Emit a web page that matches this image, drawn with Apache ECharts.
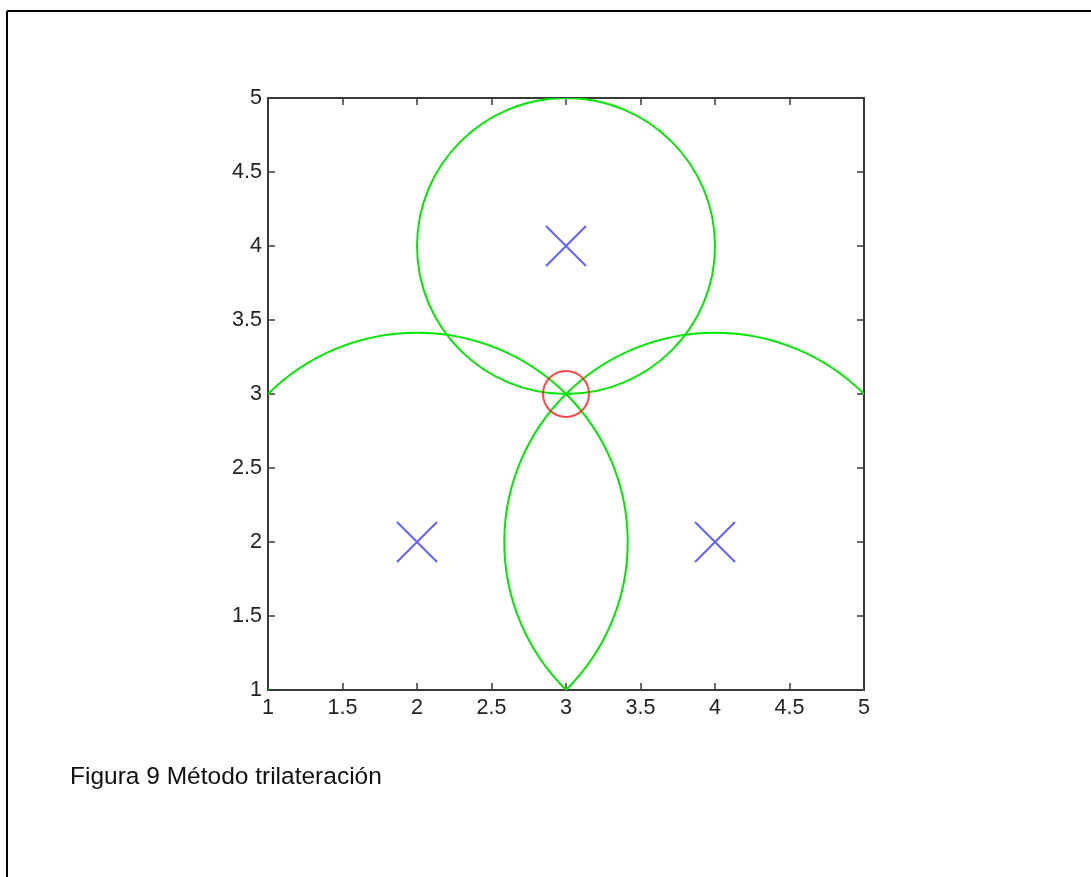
<!DOCTYPE html>
<html>
<head>
<meta charset="utf-8">
<style>
html,body{margin:0;padding:0;background:#fff;}
#chart{width:1091px;height:877px;}
</style>
<script src="https://cdn.jsdelivr.net/npm/echarts@6/dist/echarts.min.js"></script>
</head>
<body>
<div id="chart"></div>
<script>
// Data
var xTicks = [1, 1.5, 2, 2.5, 3, 3.5, 4, 4.5, 5];
var yTicks = [1, 1.5, 2, 2.5, 3, 3.5, 4, 4.5, 5];
// circles (anchors): centers and radii
var circleX = [3, 2, 4];
var circleY = [4, 2, 2];
var circleR = [1, 1.4142, 1.4142];
// anchor markers (blue x)
var anchorX = [3, 2, 4];
var anchorY = [4, 2, 2];
// estimated position (red o)
var estX = [3];
var estY = [3];
var caption = 'Figura 9 Método trilateración';

var FONT = 'Liberation Sans, Arial, sans-serif';
var chart = echarts.init(document.getElementById('chart'), null, {renderer: 'canvas'});

var circleData = circleX.map(function (x, i) { return [x, circleY[i], circleR[i]]; });
var anchorData = anchorX.map(function (x, i) { return [x, anchorY[i]]; });
var estData = estX.map(function (x, i) { return [x, estY[i]]; });

var axisCommon = {
  type: 'value', min: 1, max: 5, interval: 0.5,
  axisLine: {show: true, lineStyle: {color: '#3a3a3a', width: 2}},
  axisTick: {show: true, inside: true, length: 7, lineStyle: {color: '#3a3a3a', width: 1.5}},
  splitLine: {show: false}
};

var option = {
  animation: false,
  backgroundColor: '#fff',
  grid: {left: 268, top: 98, width: 596, height: 592, containLabel: false},
  xAxis: [
    Object.assign({}, axisCommon, {
      position: 'bottom',
      axisLabel: {show: true, margin: 7, color: '#222', fontSize: 21.5, fontFamily: FONT,
        formatter: function (v) { return xTicks.indexOf(v) >= 0 ? String(v) : ''; }}
    }),
    Object.assign({}, axisCommon, {position: 'top', axisLabel: {show: false}})
  ],
  yAxis: [
    Object.assign({}, axisCommon, {
      position: 'left',
      axisLabel: {show: true, margin: 6, color: '#222', fontSize: 21.5, fontFamily: FONT,
        formatter: function (v) { return yTicks.indexOf(v) >= 0 ? String(v) : ''; }}
    }),
    Object.assign({}, axisCommon, {position: 'right', axisLabel: {show: false}})
  ],
  series: [
    {
      type: 'custom',
      clip: true,
      xAxisIndex: 0, yAxisIndex: 0,
      data: circleData,
      renderItem: function (params, api) {
        var c = api.coord([api.value(0), api.value(1)]);
        var s = api.size([api.value(2), api.value(2)]);
        return {
          type: 'ellipse',
          shape: {cx: c[0], cy: c[1], rx: s[0], ry: s[1]},
          style: {fill: 'none', stroke: '#00e800', lineWidth: 2}
        };
      },
      z: 2
    },
    {
      type: 'scatter',
      xAxisIndex: 0, yAxisIndex: 0,
      data: anchorData,
      symbol: 'path://M0,0L10,10M10,0L0,10',
      symbolSize: 40,
      itemStyle: {color: 'none', borderColor: '#3a3aff', borderWidth: 2},
      z: 3
    },
    {
      type: 'scatter',
      xAxisIndex: 0, yAxisIndex: 0,
      data: estData,
      symbol: 'circle',
      symbolSize: 46,
      itemStyle: {color: 'none', borderColor: '#ff1a1a', borderWidth: 2},
      z: 4
    }
  ],
  graphic: [
    {type: 'line', shape: {x1: 7, y1: 11, x2: 1091, y2: 11}, style: {stroke: '#000', lineWidth: 2}},
    {type: 'line', shape: {x1: 7, y1: 11, x2: 7, y2: 877}, style: {stroke: '#000', lineWidth: 2}},
    {type: 'text', left: 70, top: 765,
      style: {text: caption, fill: '#111', fontSize: 24.5, fontFamily: FONT}}
  ]
};
chart.setOption(option);
</script>
</body>
</html>
